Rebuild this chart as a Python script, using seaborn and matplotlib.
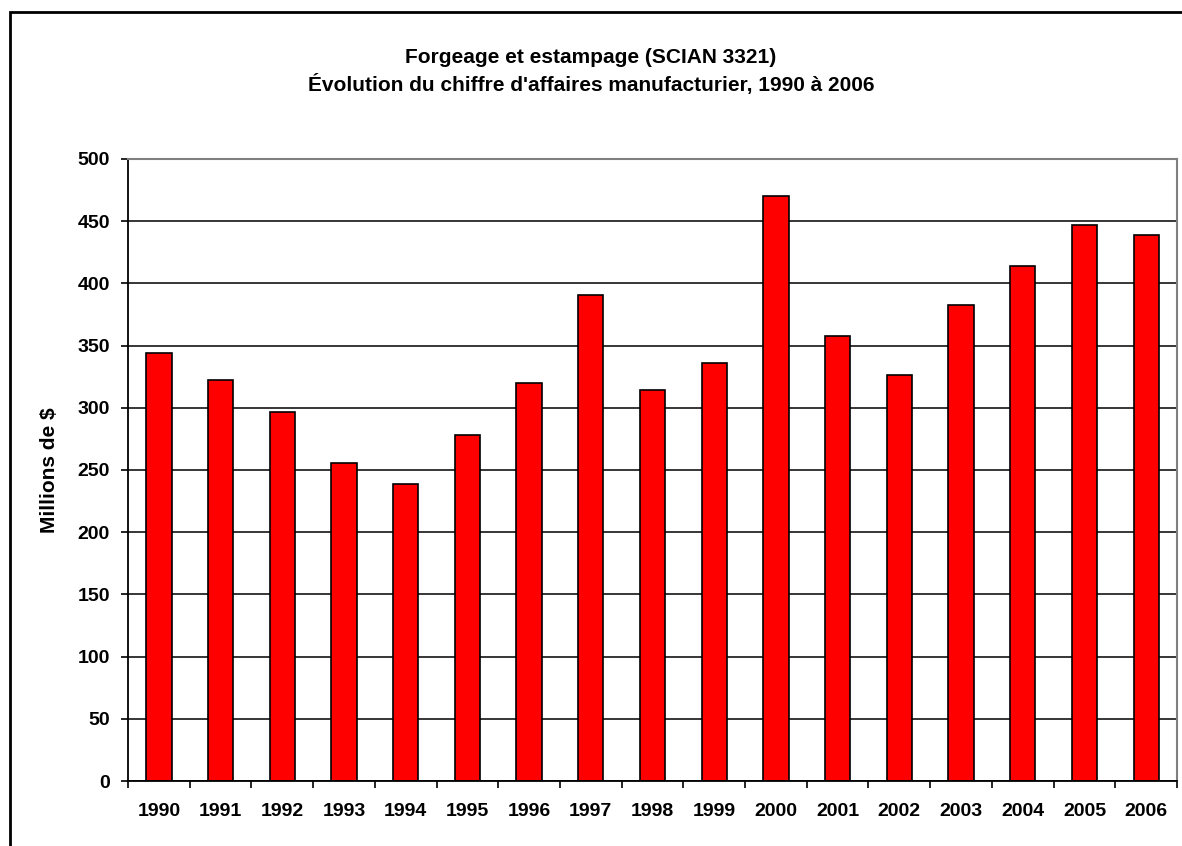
import numpy as np
import pandas as pd
import seaborn as sns
import matplotlib.pyplot as plt
from matplotlib.patches import Rectangle
from matplotlib.ticker import MultipleLocator, FixedLocator

# data (millions de $)
years = ['1990', '1991', '1992', '1993', '1994', '1995', '1996', '1997', '1998',
         '1999', '2000', '2001', '2002', '2003', '2004', '2005', '2006']
sales = [344, 322, 297, 256, 239, 278, 320, 391, 314,
         336, 470, 358, 326, 383, 414, 447, 439]

title_1 = 'Forgeage et estampage (SCIAN 3321)'
title_2 = "Évolution du chiffre d'affaires manufacturier, 1990 à 2006"
y_label = 'Millions de $'

df = pd.DataFrame({'year': years, 'sales': sales})

sns.set_style('white')
plt.rcParams['font.family'] = ['Liberation Sans', 'DejaVu Sans']
plt.rcParams['font.weight'] = 'bold'
plt.rcParams['text.color'] = 'black'
plt.rcParams['axes.labelcolor'] = 'black'
plt.rcParams['xtick.color'] = 'black'
plt.rcParams['ytick.color'] = 'black'

fig = plt.figure(figsize=(11.82, 8.46), dpi=100)
ax = fig.add_axes([0.1083, 0.0768, 0.8875, 0.7353])

# gridlines behind the bars
ax.set_axisbelow(True)
ax.yaxis.grid(True, color='black', linewidth=1.1)
ax.xaxis.grid(False)

sns.barplot(data=df, x='year', y='sales', color='#FF0000', saturation=1,
            edgecolor='black', linewidth=1.2, width=0.41, ax=ax)

ax.set_ylim(0, 500)
ax.set_xlim(-0.5, len(years) - 0.5)
ax.yaxis.set_major_locator(MultipleLocator(50))

# x ticks between the categories, labels centred under the bars
ax.xaxis.set_minor_locator(FixedLocator(np.arange(-0.5, len(years), 1)))
ax.tick_params(axis='x', which='major', length=0, pad=16, labelsize=14, labelcolor='black')
ax.tick_params(axis='x', which='minor', bottom=True, length=5, width=1.2, color='black')
ax.tick_params(axis='y', which='major', left=True, length=5, width=1.2, color='black',
               pad=8, labelsize=14, labelcolor='black')
for lbl in ax.get_xticklabels() + ax.get_yticklabels():
    lbl.set_fontweight('bold')

ax.set_xlabel('')
ax.set_ylabel(y_label, fontsize=15, fontweight='bold', color='black')
ax.yaxis.set_label_coords(-0.066, 0.5)

for side in ['left', 'bottom']:
    ax.spines[side].set_color('black')
    ax.spines[side].set_linewidth(1.3)
for side in ['top', 'right']:
    ax.spines[side].set_visible(True)
    ax.spines[side].set_color('#808080')
    ax.spines[side].set_linewidth(1.5)

fig.text(0.5, 0.9326, title_1, ha='center', va='center', fontsize=15,
         fontweight='bold', color='black')
fig.text(0.5, 0.9007, title_2, ha='center', va='center', fontsize=15,
         fontweight='bold', color='black')

# outer chart frame
fig.patches.append(Rectangle((10 / 1182, -0.1), 1.2, 1.1 - 12 / 846,
                             transform=fig.transFigure, fill=False,
                             edgecolor='black', linewidth=2))

fig.savefig('out.png', dpi=100)
